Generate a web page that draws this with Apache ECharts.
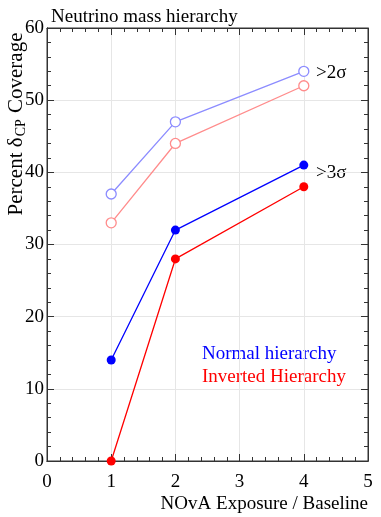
<!DOCTYPE html>
<html>
<head>
<meta charset="utf-8">
<script src="https://cdn.jsdelivr.net/npm/echarts@6/dist/echarts.min.js"></script>
<style>
html,body{margin:0;padding:0;background:#fff;}
#main{width:381px;height:517px;}
</style>
</head>
<body>
<div id="main"></div>
<script>
// exposure steps on the x axis
var exposure = [1, 2, 4];
// percent coverage
var normal2s = [37, 47, 54];
var inverted2s = [33, 44, 52];
var normal3s = [14, 32, 41];
var inverted3s = [0, 28, 38];

var FONT = '"Liberation Serif", "DejaVu Serif", serif';

function pairs(ys) {
	return exposure.map(function (x, i) { return [x, ys[i]]; });
}

var myChart = echarts.init(document.getElementById('main'));

// axis with only inside ticks (no labels), one per side of the frame
function tickAxis(extra) {
	return Object.assign({
		type: 'value',
		axisLine: {show: true, onZero: false, lineStyle: {color: '#333', width: 1}},
		axisTick: {show: true, inside: true, length: 7, lineStyle: {color: '#333'}},
		minorTick: {show: true, splitNumber: 5, length: 4, lineStyle: {color: '#333'}},
		axisLabel: {show: false},
		splitLine: {show: false}
	}, extra);
}

option = {
	animation: false,
	grid: {
		left: 47, right: 13, top: 28, bottom: 56,
		outerBoundsMode: 'none', containLabel: false,
		show: true, borderColor: '#333', borderWidth: 1
	},
	title: {
		text: 'Neutrino mass hierarchy',
		left: 46, top: 3,
		textStyle: {fontFamily: FONT, fontSize: 19, fontWeight: 'normal', color: '#000'}
	},
	xAxis: [
		{
			type: 'value', min: 0, max: 5, interval: 1, position: 'bottom',
			axisLine: {show: true, onZero: false, lineStyle: {color: '#333'}},
			axisTick: {show: false},
			minorTick: {show: false},
			axisLabel: {fontFamily: FONT, fontSize: 19, color: '#000', margin: 12},
			splitLine: {show: true, lineStyle: {color: '#e6e6e6'}},
			name: 'NOvA Exposure / Baseline',
			nameLocation: 'end',
			nameGap: 0,
			nameTextStyle: {fontFamily: FONT, fontSize: 19, color: '#000', align: 'right', verticalAlign: 'top', padding: [34, 0, 0, 0]}
		},
		tickAxis({min: 0, max: 5, interval: 1, position: 'top'}),
		tickAxis({min: 0, max: 5, interval: 1, position: 'bottom'})
	],
	yAxis: [
		{
			type: 'value', min: 0, max: 60, interval: 10, position: 'left',
			axisLine: {show: true, onZero: false, lineStyle: {color: '#333'}},
			axisTick: {show: false},
			minorTick: {show: false},
			axisLabel: {fontFamily: FONT, fontSize: 19, color: '#000', margin: 3},
			splitLine: {show: true, lineStyle: {color: '#e6e6e6'}}
		},
		tickAxis({min: 0, max: 60, interval: 10, position: 'right'}),
		tickAxis({min: 0, max: 60, interval: 10, position: 'left'})
	],
	graphic: [
		{
			type: 'text', x: 16, y: 124, rotation: Math.PI / 2,
			style: {
				text: '{n|Percent δ}{s|CP}{n| Coverage}',
				align: 'center', verticalAlign: 'middle',
				rich: {
					n: {fontFamily: FONT, fontSize: 21, fill: '#000'},
					s: {fontFamily: FONT, fontSize: 14, fill: '#000', verticalAlign: 'bottom', padding: [11, 1, 0, 1]}
				}
			}
		},
		{type: 'text', left: 316, top: 64, style: {text: '>2σ', font: '19px ' + FONT, fill: '#000'}},
		{type: 'text', left: 316, top: 164, style: {text: '>3σ', font: '19px ' + FONT, fill: '#000'}},
		{type: 'text', left: 202, top: 345, style: {text: 'Normal hierarchy', font: '19px ' + FONT, fill: '#0000ff'}},
		{type: 'text', left: 202, top: 368, style: {text: 'Inverted Hierarchy', font: '19px ' + FONT, fill: '#ff0000'}}
	],
	series: [
		{
			name: 'Normal >2σ', type: 'line', data: pairs(normal2s),
			symbol: 'circle', symbolSize: 10,
			lineStyle: {color: '#8c8cff', width: 1.3},
			itemStyle: {color: '#fff', borderColor: '#8c8cff', borderWidth: 1.3}
		},
		{
			name: 'Inverted >2σ', type: 'line', data: pairs(inverted2s),
			symbol: 'circle', symbolSize: 10,
			lineStyle: {color: '#ff8c8c', width: 1.3},
			itemStyle: {color: '#fff', borderColor: '#ff8c8c', borderWidth: 1.3}
		},
		{
			name: 'Normal >3σ', type: 'line', data: pairs(normal3s),
			symbol: 'circle', symbolSize: 9,
			lineStyle: {color: '#0000ff', width: 1.3},
			itemStyle: {color: '#0000ff'}
		},
		{
			name: 'Inverted >3σ', type: 'line', data: pairs(inverted3s),
			symbol: 'circle', symbolSize: 9,
			lineStyle: {color: '#ff0000', width: 1.3},
			itemStyle: {color: '#ff0000'}
		}
	]
};
myChart.setOption(option, true);
</script>
</body>
</html>
